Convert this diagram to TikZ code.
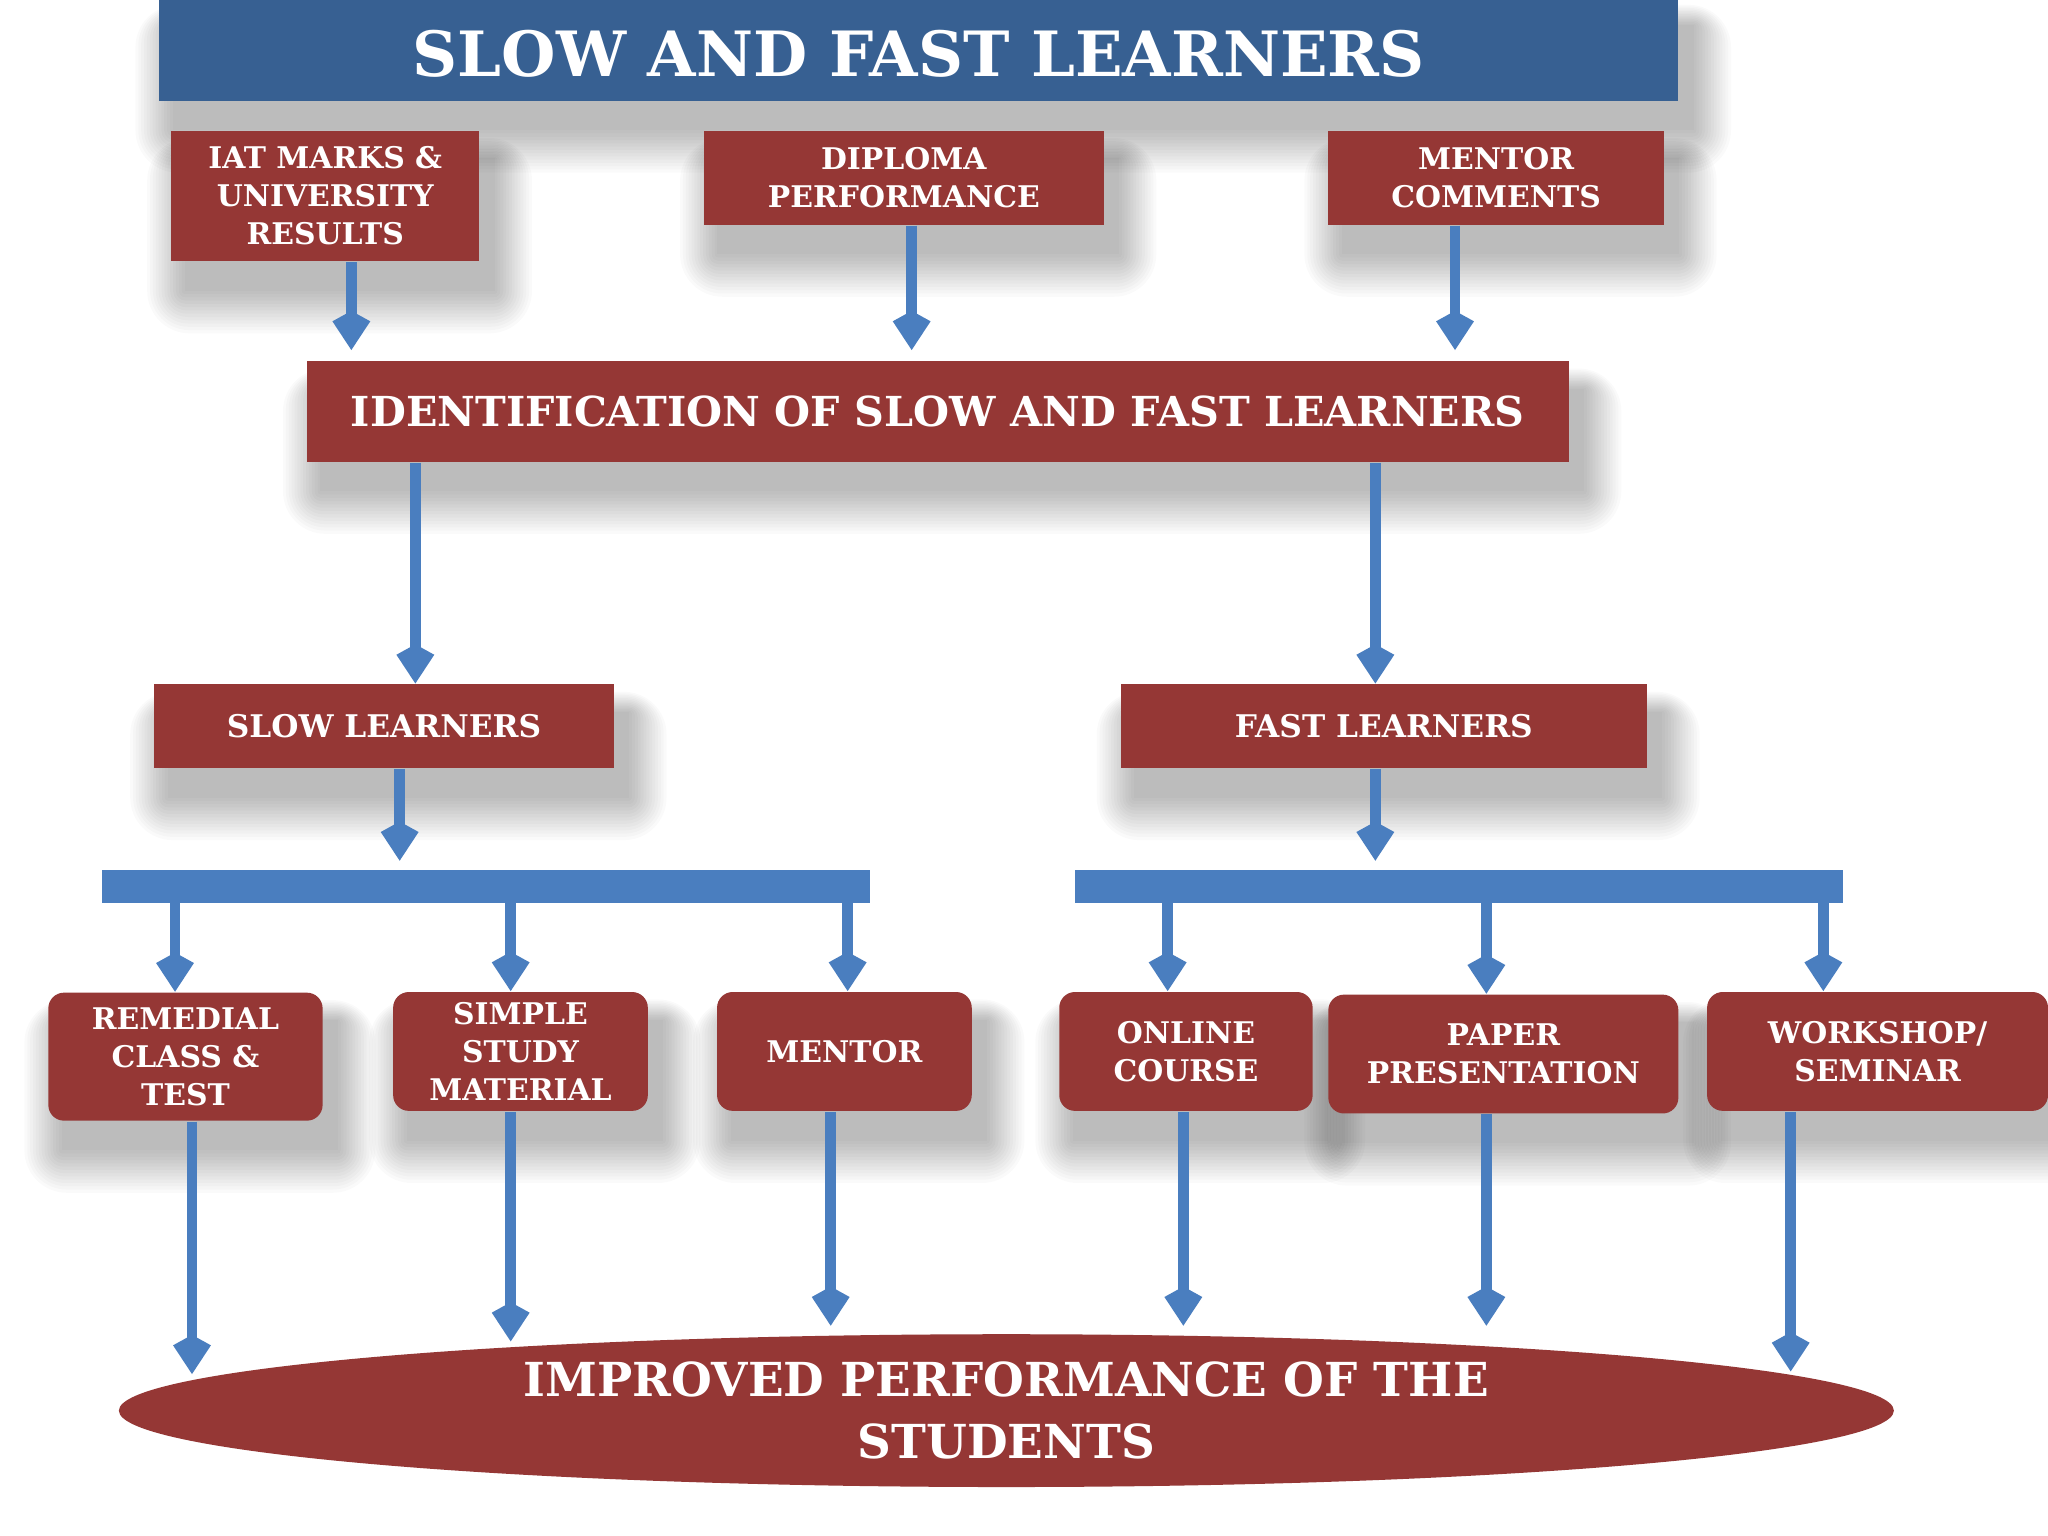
\documentclass[tikz,border=0pt]{standalone}
\usepackage{fontspec}
\setmainfont{DejaVu Serif}
\usetikzlibrary{arrows.meta,shapes.geometric,backgrounds}
\definecolor{boxred}{RGB}{149,55,53}
\definecolor{titleblue}{RGB}{55,96,146}
\definecolor{flowblue}{RGB}{74,126,191}
\tikzset{
  redbox/.style={fill=boxred,text=white,align=center,inner sep=0pt,
    font=\bfseries\fontsize{6.5}{8.3}\selectfont},
  groupbox/.style={redbox,minimum height=6.4mm,font=\bfseries\fontsize{6.8}{8.3}\selectfont},
  roundbox/.style={redbox,rounded corners=1.2mm,minimum height=9.1mm},
  bar/.style={fill=flowblue,inner sep=0pt,minimum height=2.5mm,minimum width=58.8mm},
  flow/.style={draw=flowblue,line width=0.8mm,-{Kite[length=3mm,width=2.9mm,inset=0.8mm]}},
  haze/.style={fill=black,fill opacity=0.02,rounded corners=#1},
}
\begin{document}
\begin{tikzpicture}[x=0.1mm,y=-0.1mm]
        \useasboundingbox (0,0) rectangle (1568,1176);

        %% title and inputs
        \node[fill=titleblue,text=white,inner sep=0pt,minimum width=116.3mm,minimum height=7.9mm,text height=4.3mm,
          font=\bfseries\fontsize{13.6}{17}\selectfont] (title) at (703.5,37.5) {SLOW AND FAST LEARNERS};
        \node[redbox,minimum width=23.6mm,minimum height=10mm] (iat) at (249,150) {IAT MARKS \&\\UNIVERSITY\\RESULTS};
        \node[redbox,minimum width=30.6mm,minimum height=7.2mm] (dip) at (692,136) {DIPLOMA\\PERFORMANCE};
        \node[redbox,minimum width=25.7mm,minimum height=7.2mm] (cmt) at (1145.5,136) {MENTOR\\COMMENTS};
        \node[redbox,minimum width=96.6mm,minimum height=7.7mm,font=\bfseries\fontsize{9}{11}\selectfont] (ident) at (718,315)
          {IDENTIFICATION OF SLOW AND FAST LEARNERS};

        %% the two groups
        \node[groupbox,minimum width=35.2mm] (slow) at (294,556) {SLOW LEARNERS};
        \node[groupbox,minimum width=40.3mm] (fast) at (1059.5,556) {FAST LEARNERS};
        \node[bar] (barl) at (372,678.5) {};
        \node[bar] (barr) at (1117,678.5) {};

        %% activities
        \node[roundbox,minimum width=21mm,minimum height=9.8mm] (rem) at (142,809) {REMEDIAL\\CLASS \&\\TEST};
        \node[roundbox,minimum width=19.5mm] (sim) at (398.5,805) {SIMPLE\\STUDY\\MATERIAL};
        \node[roundbox,minimum width=19.5mm] (mnt) at (646.5,805) {MENTOR};
        \node[roundbox,minimum width=19.4mm] (onl) at (908,805) {ONLINE\\COURSE};
        \node[roundbox,minimum width=26.8mm] (pap) at (1151,807) {PAPER\\PRESENTATION};
        \node[roundbox,minimum width=26.1mm] (wrk) at (1437.5,805) {WORKSHOP/\\SEMINAR};

        \node[ellipse,fill=boxred,text=white,align=center,inner sep=0pt,minimum width=135.9mm,minimum height=11.7mm,
          font=\bfseries\fontsize{10.2}{13.4}\selectfont] (imp) at (770.5,1080) {IMPROVED PERFORMANCE OF THE\\STUDENTS};

        %% soft shadows behind the boxes
        \begin{scope}[on background layer]
          \fill[white] (0,0) rectangle (1568,1176);
          \foreach \n in {title,iat,dip,cmt,ident,slow,fast,rem,sim,mnt,onl,pap,wrk}
            \foreach \k in {0,...,13}
              \fill[haze=\k*0.25mm] ([xshift=1.1mm-\k*0.22mm,yshift=-2.2mm+\k*0.12mm]\n.north west)
                rectangle ([xshift=1.1mm+\k*0.22mm,yshift=-2.2mm-\k*0.25mm]\n.south east);
        \end{scope}

        %% arrows
        \coordinate (a1) at (269,268);
        \coordinate (a2) at (698,268);
        \coordinate (a3) at (1114,268);
        \draw[flow] (iat.south -| a1) -- (a1);
        \draw[flow] (dip.south -| a2) -- (a2);
        \draw[flow] (cmt.south -| a3) -- (a3);

        \coordinate (b1) at (318,0);
        \coordinate (b2) at (1053,0);
        \draw[flow] (ident.south -| b1) -- (slow.north -| b1);
        \draw[flow] (ident.south -| b2) -- (fast.north -| b2);

        \coordinate (c1) at (306,659);
        \coordinate (c2) at (1053,659);
        \draw[flow] (slow.south -| c1) -- (c1);
        \draw[flow] (fast.south -| c2) -- (c2);

        \foreach \n/\x/\b in {rem/134/barl, sim/391/barl, mnt/649/barl, onl/894/barr, pap/1138/barr, wrk/1396/barr} {
          \coordinate (t\n) at (\x,0);
          \draw[flow] (\b.south -| t\n) -- (\n.north -| t\n);
        }
        \foreach \n/\x/\y in {rem/147/1052, sim/391/1027, mnt/636/1015, onl/906/1015, pap/1138/1015, wrk/1371/1050} {
          \coordinate (e\n) at (\x,\y);
          \draw[flow] (\n.south -| e\n) -- (e\n);
        }
\end{tikzpicture}
\end{document}
